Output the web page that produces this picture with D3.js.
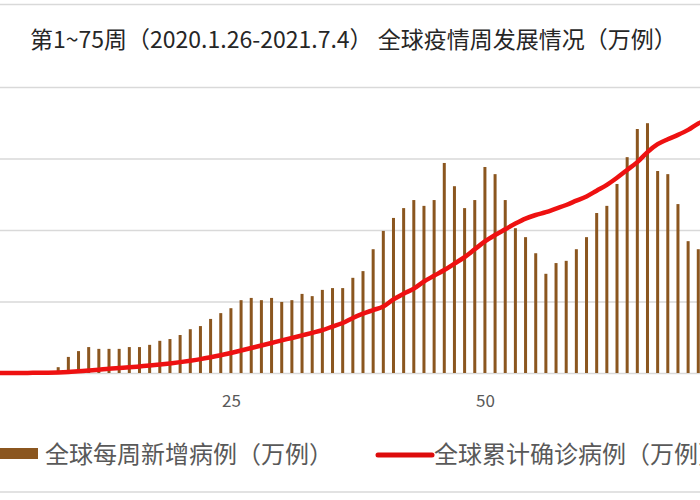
<!DOCTYPE html>
<html>
<head>
<meta charset="utf-8">
<script src="https://cdn.jsdelivr.net/npm/d3@7"></script>
<style>
  body { margin: 0; background: #fff; }
  text { font-family: "Noto Sans CJK SC", "Noto Sans", sans-serif; }
</style>
</head>
<body>
<div class="chart"></div>
<script>
var svgWidth = 700;
var svgHeight = 500;

// weeks 1..75
var weeks = d3.range(1, 76);

// weekly new cases (万例)
var weeklyNew = [
  1.2, 2.3, 3.4, 0.9, 0.8, 1.9, 4.5, 13, 36, 49,
  58, 54, 54, 54, 58, 58, 63, 72, 76, 85,
  98, 105, 121, 134, 145, 163, 168, 163, 168, 159,
  163, 177, 172, 186, 190, 190, 213, 228, 277, 318,
  347, 369, 387, 374, 387, 470, 418, 369, 387, 461,
  445, 387, 324, 304, 268, 222, 246, 251, 277, 304,
  358, 374, 423, 483, 546, 559, 452, 445, 378, 295,
  277, 270, 255, 265, 280
];

// cumulative confirmed cases (万例)
var cumulative = [
  1.2, 3.5, 6.9, 7.8, 8.6, 10.5, 15, 30, 65, 120,
  175, 235, 300, 350, 400, 460, 520, 590, 670, 760,
  860, 970, 1100, 1240, 1400, 1570, 1750, 1920, 2100, 2280,
  2450, 2630, 2810, 3000, 3250, 3500, 3850, 4150, 4400, 4650,
  5150, 5550, 5900, 6400, 6800, 7200, 7650, 8100, 8650, 9200,
  9650, 10050, 10450, 10800, 11050, 11250, 11500, 11750, 12050, 12350,
  12750, 13150, 13650, 14200, 14750, 15450, 16000, 16350, 16650, 17000,
  17450, 17750, 18000, 18200, 18400
];

var xTicks = [25, 50, 75];
var leftTicks = [0, 160, 320, 480, 640];
var rightTicks = [0, 5000, 10000, 15000, 20000];

var titleText = "第1~75周（2020.1.26-2021.7.4） 全球疫情周发展情况（万例）";
var seriesNames = ["全球每周新增病例（万例）", "全球累计确诊病例（万例）"];

// the plot area runs past the picture on both sides
var margin = { top: 87, right: -44, bottom: 127, left: -18 };
var width = svgWidth - margin.left - margin.right;
var height = svgHeight - margin.top - margin.bottom;

var svg = d3.select(".chart").append("svg")
  .attr("width", svgWidth)
  .attr("height", svgHeight);

// chart border (only top and bottom edges are in view)
svg.append("rect")
  .attr("x", -10)
  .attr("y", 4.5)
  .attr("width", svgWidth + 20)
  .attr("height", 487.5)
  .attr("fill", "none")
  .attr("stroke", "#d9d9d9")
  .attr("stroke-width", 1.5);

svg.append("text")
  .attr("x", 30)
  .attr("y", 48)
  .attr("font-size", 23)
  .attr("fill", "#262626")
  .text(titleText);

var chartGroup = svg.append("g")
  .attr("transform", `translate(${margin.left}, ${margin.top})`);

var x = d3.scaleLinear()
  .domain([0.5, 75.5])
  .range([0, width]);

var yLeft = d3.scaleLinear()
  .domain([0, d3.max(leftTicks)])
  .range([height, 0]);

var yRight = d3.scaleLinear()
  .domain([0, d3.max(rightTicks)])
  .range([height, 0]);

// gridlines
var grid = chartGroup.append("g")
  .call(d3.axisLeft(yRight).tickValues(rightTicks).tickSize(-width).tickFormat(""));
grid.select(".domain").remove();
grid.selectAll("line").attr("stroke", "#d9d9d9").attr("stroke-width", 1.5);

// x axis labels
var xAxis = chartGroup.append("g")
  .attr("transform", `translate(0, ${height})`)
  .call(d3.axisBottom(x).tickValues(xTicks).tickSize(0).tickPadding(22));
xAxis.select(".domain").remove();
xAxis.selectAll("text")
  .attr("font-size", 17)
  .attr("fill", "#595959");

// weekly bars
chartGroup.selectAll(".bar")
  .data(weeks)
  .enter()
  .append("rect")
  .attr("class", "bar")
  .attr("x", d => x(d) - 1.5)
  .attr("width", 3)
  .attr("y", (d, i) => yLeft(weeklyNew[i]))
  .attr("height", (d, i) => height - yLeft(weeklyNew[i]))
  .attr("fill", "#8b561f");

// cumulative line
var line = d3.line()
  .x(d => x(d))
  .y((d, i) => yRight(cumulative[i]))
  .curve(d3.curveMonotoneX);

chartGroup.append("path")
  .datum(weeks)
  .attr("d", line)
  .attr("fill", "none")
  .attr("stroke", "#ee1111")
  .attr("stroke-width", 4.5)
  .attr("stroke-linejoin", "round");

// legend
var legend = svg.append("g");

legend.append("rect")
  .attr("x", -2)
  .attr("y", 448)
  .attr("width", 40)
  .attr("height", 11)
  .attr("fill", "#8b561f");

legend.append("text")
  .attr("x", 45)
  .attr("y", 463)
  .attr("font-size", 24)
  .attr("fill", "#595959")
  .text(seriesNames[0]);

legend.append("line")
  .attr("x1", 378)
  .attr("x2", 432)
  .attr("y1", 455)
  .attr("y2", 455)
  .attr("stroke", "#dd0c0c")
  .attr("stroke-width", 5)
  .attr("stroke-linecap", "round");

legend.append("text")
  .attr("x", 434)
  .attr("y", 463)
  .attr("font-size", 24)
  .attr("fill", "#595959")
  .text(seriesNames[1]);
</script>
</body>
</html>
